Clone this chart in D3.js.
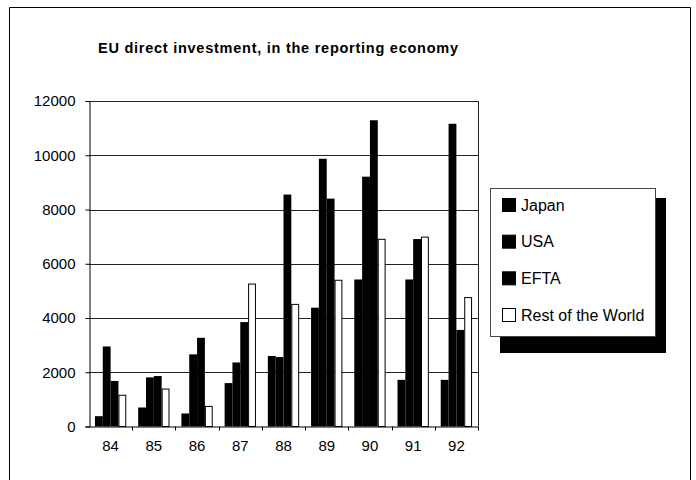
<!DOCTYPE html>
<html><head><meta charset="utf-8">
<script src="https://cdn.jsdelivr.net/npm/d3@7"></script>
<style>body{margin:0;background:#fff}svg{display:block;font-family:"Liberation Sans",Arial,sans-serif}</style>
</head><body><svg id="c" width="696" height="480"></svg>
<script>
const years = ["84","85","86","87","88","89","90","91","92"];
const seriesNames = ["Japan","USA","EFTA","Rest of the World"];
const japan = [380, 700, 480, 1600, 2600, 4380, 5420, 1720, 1720];
const usa   = [2950, 1810, 2660, 2360, 2560, 9870, 9210, 5420, 11160];
const efta  = [1680, 1860, 3270, 3850, 8550, 8400, 11290, 6910, 3560];
const rest  = [1170, 1400, 760, 5270, 4520, 5410, 6920, 7000, 4770];
const yTicks = [0, 2000, 4000, 6000, 8000, 10000, 12000];
const title = "EU direct investment, in the reporting economy";

const series = [japan, usa, efta, rest];
const fills = ["#000","#000","#000","#fff"];
const svg = d3.select("#c");

// outer frame (open at bottom)
svg.append("path").attr("d","M9.5,480 V7.5 H690.5 V480").attr("fill","none").attr("stroke","#000").attr("stroke-width",1);

const L = 89, R = 478, T = 101, B = 426.5;
const x = d3.scaleBand().domain(years).range([L, R]).padding(0);
const xi = d3.scaleBand().domain(d3.range(4)).range([0, x.bandwidth()]).paddingInner(0).paddingOuter(0.76);
const y = d3.scaleLinear().domain([0, 12000]).range([B, T]);

svg.append("text").attr("x", 278).attr("y", 53).attr("text-anchor","middle")
  .attr("font-weight","bold").attr("font-size", 14.5).attr("textLength", 360).attr("lengthAdjust","spacing").text(title);

// gridlines
svg.append("g").selectAll("line").data(yTicks.filter(d=>d>0)).join("line")
  .attr("x1", L).attr("x2", R).attr("y1", d=>Math.round(y(d))+0.5).attr("y2", d=>Math.round(y(d))+0.5)
  .attr("stroke","#222").attr("stroke-width",1);
// right border
svg.append("line").attr("x1",R+0.5).attr("x2",R+0.5).attr("y1",T).attr("y2",B).attr("stroke","#222");

// bars
const g = svg.append("g");
series.forEach((vals, si) => {
  g.selectAll(null).data(vals).join("rect")
    .attr("x", (d,i)=> x(years[i]) + xi(si) + (si===3?0.5:0))
    .attr("y", d=> y(d) + (si===3?0.5:0))
    .attr("width", xi.bandwidth() - (si===3?1:0))
    .attr("height", d=> B - y(d) - (si===3?0.5:0))
    .attr("fill", fills[si])
    .attr("stroke", si===3 ? "#000" : "none").attr("stroke-width",1);
});

// y axis
const ya = d3.axisLeft(y).tickValues(yTicks).tickSize(4).tickPadding(10).tickFormat(d3.format("d"));
const yg = svg.append("g").attr("transform",`translate(${L+0.5},0)`).call(ya);
yg.select(".domain").attr("stroke","#000");
yg.selectAll("text").attr("font-size",15).attr("fill","#000").attr("font-family","Liberation Sans, Arial, sans-serif");
// x axis
const xa = d3.axisBottom(x).tickSize(0).tickPadding(14);
const xg = svg.append("g").attr("transform",`translate(0,${B})`).call(xa);
xg.select(".domain").attr("stroke","#000").attr("d",`M${L},0.5H${R}`);
xg.selectAll("text").attr("font-size",15).attr("fill","#000").attr("font-family","Liberation Sans, Arial, sans-serif");
// category separator ticks
svg.append("g").selectAll("line").data(years.slice(1).concat(["end"])).join("line")
  .attr("x1", (d,i)=> Math.round(L + (i+1)*x.step())+0.5).attr("x2",(d,i)=> Math.round(L + (i+1)*x.step())+0.5)
  .attr("y1", B).attr("y2", B+4).attr("stroke","#000");

// legend
const lg = svg.append("g");
lg.append("rect").attr("x",500).attr("y",198).attr("width",166).attr("height",155).attr("fill","#000");
lg.append("rect").attr("x",490.5).attr("y",188.5).attr("width",165).attr("height",148).attr("fill","#fff").attr("stroke","#444");
const ly = d3.scalePoint().domain(seriesNames).range([205, 315]);
seriesNames.forEach((n, i) => {
  lg.append("rect").attr("x", 502.5).attr("y", ly(n)-6.5).attr("width", 13).attr("height", 13)
    .attr("fill", fills[i]).attr("stroke","#000");
  lg.append("text").attr("x", 521).attr("y", ly(n)+5.5).attr("font-size", 16).text(n);
});
</script></body></html>
